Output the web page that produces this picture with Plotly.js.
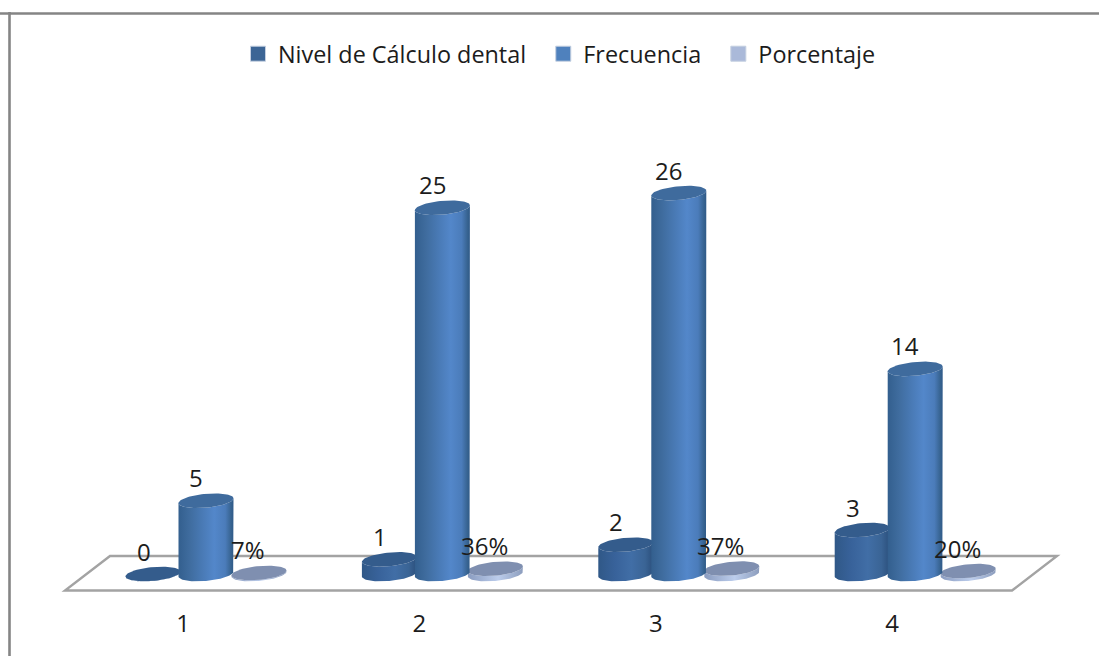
<!DOCTYPE html>
<html>
<head>
<meta charset="utf-8">
<script src="https://cdn.plot.ly/plotly-3.0.1.min.js"></script>
<style>html,body{margin:0;padding:0;background:#fff;overflow:hidden}</style>
</head>
<body>
<div id="chart" style="width:1099px;height:656px"></div>
<script>
// Chart data
const categories = [1, 2, 3, 4];
const nivel = [0, 1, 2, 3];
const frecuencia = [5, 25, 26, 14];
const porcentaje = [0.07, 0.36, 0.37, 0.20];
const seriesNames = ['Nivel de Cálculo dental\u00a0\u00a0', 'Frecuencia\u00a0\u00a0', 'Porcentaje'];

// Canvas and axis calibration
const W = 1099, H = 656, bottomMargin = 49;
const plotH = H - bottomMargin;
const pxPerCat = 236.4, pxPerUnit = 14.65;
const cat1Px = 183, zeroPx = 574;
const xRange = [1 - cat1Px / pxPerCat, 1 + (W - cat1Px) / pxPerCat];
const yRange = [-(plotH - zeroPx) / pxPerUnit, zeroPx / pxPerUnit];

// Cylinder geometry, in pixels
const hw = 27.5, hh = 6.9, tilt = 2.4;
const offsets = [-30, 23, 76];
const styles = [
  {cap: '#345c8c', scale: [[0, '#305887'], [0.3, '#38629a'], [0.6, '#416ea6'], [0.85, '#3a6495'], [1, '#2b4f7c']], legend: '#3c6595', labelShift: -9.5},
  {cap: '#3f6b9d', scale: [[0, '#335f8e'], [0.2, '#3f6c9e'], [0.45, '#4a7bb7'], [0.65, '#5387ca'], [0.85, '#4b7cba'], [0.96, '#36628f'], [1, '#2f5a89']], legend: '#4f81bd', labelShift: -10},
  {cap: '#7f8fb0', scale: [[0, '#8a9cc0'], [0.55, '#bccdec'], [1, '#8c9dbd']], legend: '#aab9d9', labelShift: -11}
];
const drawOrder = [0, 2, 1];

const dx = px => px / pxPerCat;
const dy = px => px / pxPerUnit;

function ellipseArc(cx, v, from, to, n) {
  const xs = [], ys = [];
  for (let i = 0; i <= n; i++) {
    const t = from + (to - from) * i / n;
    xs.push(cx + dx(hw) * Math.cos(t));
    ys.push(v + dy(hh) * Math.sin(t) + dy(tilt) * Math.cos(t));
  }
  return {xs, ys};
}

const values = [nivel, frecuencia, porcentaje];
const traces = [];

// One filled body and one cap per cylinder, built from the series values
drawOrder.forEach(s => {
  categories.forEach((c, i) => {
    const v = values[s][i];
    const cx = c + dx(offsets[s]);
    const front = ellipseArc(cx, v, Math.PI, 2 * Math.PI, 40);
    const base = ellipseArc(cx, 0, 2 * Math.PI, Math.PI, 40);
    traces.push({
      type: 'scatter', mode: 'lines', showlegend: false, hoverinfo: 'skip',
      x: front.xs.concat(base.xs), y: front.ys.concat(base.ys),
      fill: 'toself', line: {width: 0},
      fillgradient: {type: 'horizontal', colorscale: styles[s].scale, start: cx - dx(hw), stop: cx + dx(hw)}
    });
    const cap = ellipseArc(cx, v, 0, 2 * Math.PI, 80);
    traces.push({
      type: 'scatter', mode: 'lines', showlegend: false, hoverinfo: 'skip',
      x: cap.xs, y: cap.ys, fill: 'toself', fillcolor: styles[s].cap, line: {width: 0}
    });
  });
});

// Legend entries
seriesNames.forEach((name, s) => {
  traces.push({
    type: 'scatter', mode: 'markers', name: name, x: [null], y: [null],
    marker: {symbol: 'square', size: 15, color: styles[s].legend, line: {width: 1, color: '#c4cfe0'}}
  });
});

// Value labels above each cylinder
const annotations = [];
const labelFont = {family: 'Open Sans, sans-serif', size: 24, color: '#1c1c1c'};
values.forEach((vals, s) => {
  vals.forEach((v, i) => {
    annotations.push({
      xref: 'x', yref: 'y', x: categories[i] + dx(offsets[s]), y: v,
      text: s === 2 ? Math.round(v * 100) + '%' : String(v),
      showarrow: false, font: labelFont, xanchor: 'center', yanchor: 'middle',
      xshift: styles[s].labelShift, yshift: 23
    });
  });
});

const fx = p => p / W;
const fy = p => 1 - p / plotH;
const shapes = [
  // Outer frame
  {type: 'line', xref: 'paper', yref: 'paper', x0: fx(0), x1: fx(1099), y0: fy(13.5), y1: fy(13.5), line: {color: '#858585', width: 2.6}},
  {type: 'line', xref: 'paper', yref: 'paper', x0: fx(9.5), x1: fx(9.5), y0: fy(12), y1: fy(656), line: {color: '#858585', width: 2.6}},
  // Chart floor
  {type: 'path', xref: 'paper', yref: 'paper', layer: 'below',
   path: `M ${fx(110)} ${fy(556)} L ${fx(1057)} ${fy(556)} L ${fx(1012)} ${fy(590.5)} L ${fx(65)} ${fy(590.5)} Z`,
   line: {color: '#a3a3a3', width: 2.4}, fillcolor: 'rgba(0,0,0,0)'}
];

const layout = {
  width: W, height: H,
  margin: {l: 0, r: 0, t: 0, b: bottomMargin, pad: 0},
  paper_bgcolor: '#ffffff', plot_bgcolor: '#ffffff',
  font: labelFont,
  showlegend: true,
  legend: {orientation: 'h', x: 238 / W, xanchor: 'left', y: fy(54), yanchor: 'middle', itemwidth: 30,
           font: {family: 'Open Sans, sans-serif', size: 23.4, color: '#1c1c1c'}, bgcolor: 'rgba(0,0,0,0)'},
  xaxis: {range: xRange, tickmode: 'array', tickvals: categories, ticktext: categories.map(String),
          showgrid: false, zeroline: false, showline: false, ticks: '',
          tickfont: labelFont, fixedrange: true},
  yaxis: {range: yRange, visible: false, fixedrange: true},
  shapes, annotations
};

Plotly.newPlot('chart', traces, layout, {displayModeBar: false, staticPlot: true});
</script>
</body>
</html>
